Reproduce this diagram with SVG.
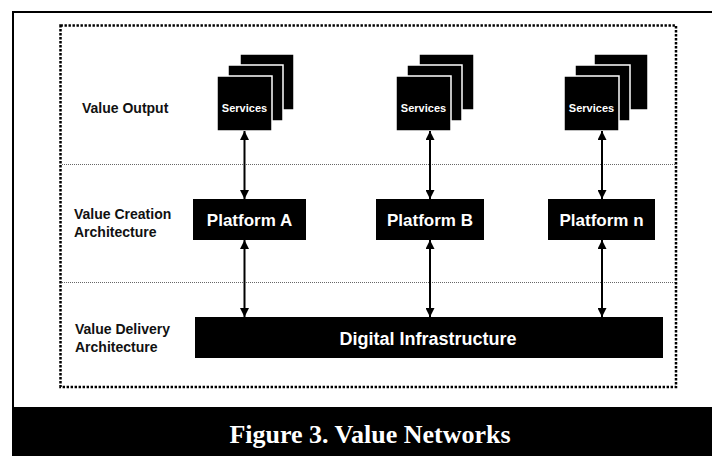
<svg xmlns="http://www.w3.org/2000/svg" width="712" height="456" viewBox="0 0 712 456">
<style>
.lbl{font-family:"Liberation Sans",Arial,sans-serif;font-weight:bold;font-size:14px;fill:#111}
.svc{font-family:"Liberation Sans",Arial,sans-serif;font-weight:bold;font-size:11px;fill:#fff;text-anchor:middle}
.plt{font-family:"Liberation Sans",Arial,sans-serif;font-weight:bold;font-size:17px;fill:#fff;text-anchor:middle}
.inf{font-family:"Liberation Sans",Arial,sans-serif;font-weight:bold;font-size:18px;fill:#fff;text-anchor:middle}
.card{fill:#000;stroke:#fff;stroke-width:1.5}
.box{fill:#000}
.sep{stroke:#666;stroke-width:1;stroke-dasharray:1 1;fill:none}
.conn{stroke:#000;stroke-width:2;fill:none;marker-start:url(#ah);marker-end:url(#ah)}
</style>
<defs>
<marker id="ah" viewBox="0 0 10 10" refX="10" refY="5" markerWidth="9" markerHeight="9" markerUnits="userSpaceOnUse" orient="auto-start-reverse">
<path d="M0,0 L10,5 L0,10 Z" fill="#000"/>
</marker>
</defs>
<rect x="0" y="0" width="712" height="456" fill="#fff"/>
<g id="frame">
<path d="M13,407 V12 H712" stroke="#000" stroke-width="2" fill="none"/>
<rect x="60.5" y="25.5" width="615.5" height="361.5" fill="none" stroke="#000" stroke-width="2.5" stroke-dasharray="2.4 1.6"/>
<line class="sep" x1="62" y1="164.5" x2="675" y2="164.5"/>
<line class="sep" x1="62" y1="282.5" x2="675" y2="282.5"/>
</g>
<g id="layer-labels">
<text class="lbl" x="82" y="113">Value Output</text>
<text class="lbl" x="74" y="219">Value Creation</text>
<text class="lbl" x="74" y="237">Architecture</text>
<text class="lbl" x="75" y="334">Value Delivery</text>
<text class="lbl" x="75" y="352">Architecture</text>
</g>
<g id="services-a">
<rect class="card" x="240" y="54" width="54" height="56"/>
<rect class="card" x="228" y="65" width="55" height="56"/>
<rect class="card" x="217" y="76" width="55" height="55"/>
<text class="svc" x="244.5" y="112">Services</text>
</g>
<g id="services-b">
<rect class="card" x="419" y="54" width="55" height="56"/>
<rect class="card" x="407" y="65" width="55" height="56"/>
<rect class="card" x="396" y="76" width="55" height="55"/>
<text class="svc" x="423.5" y="112">Services</text>
</g>
<g id="services-n">
<rect class="card" x="594" y="54" width="54" height="56"/>
<rect class="card" x="575" y="65" width="55" height="56"/>
<rect class="card" x="564" y="76" width="55" height="55"/>
<text class="svc" x="591.5" y="112">Services</text>
</g>
<g id="platform-a">
<rect class="box" x="193" y="199" width="113" height="41"/>
<text class="plt" x="249.5" y="225.5">Platform A</text>
</g>
<g id="platform-b">
<rect class="box" x="376" y="199" width="108" height="41"/>
<text class="plt" x="430" y="225.5">Platform B</text>
</g>
<g id="platform-n">
<rect class="box" x="548" y="199" width="107" height="41"/>
<text class="plt" x="601.5" y="225.5">Platform n</text>
</g>
<g id="digital-infrastructure">
<rect class="box" x="195" y="317" width="468" height="41"/>
<text class="inf" x="428" y="345">Digital Infrastructure</text>
</g>
<g id="connectors">
<line class="conn" x1="244.5" y1="131" x2="244.5" y2="199"/>
<line class="conn" x1="430" y1="131" x2="430" y2="199"/>
<line class="conn" x1="602" y1="131" x2="602" y2="199"/>
<line class="conn" x1="244.5" y1="240" x2="244.5" y2="317"/>
<line class="conn" x1="430" y1="240" x2="430" y2="317"/>
<line class="conn" x1="602" y1="240" x2="602" y2="317"/>
</g>
<g id="caption">
<rect x="12" y="407" width="700" height="49" fill="#000"/>
<text x="370" y="443" text-anchor="middle" font-family="'Liberation Serif','Times New Roman',serif" font-weight="bold" font-size="26px" fill="#fff">Figure 3. Value Networks</text>
</g>
</svg>
